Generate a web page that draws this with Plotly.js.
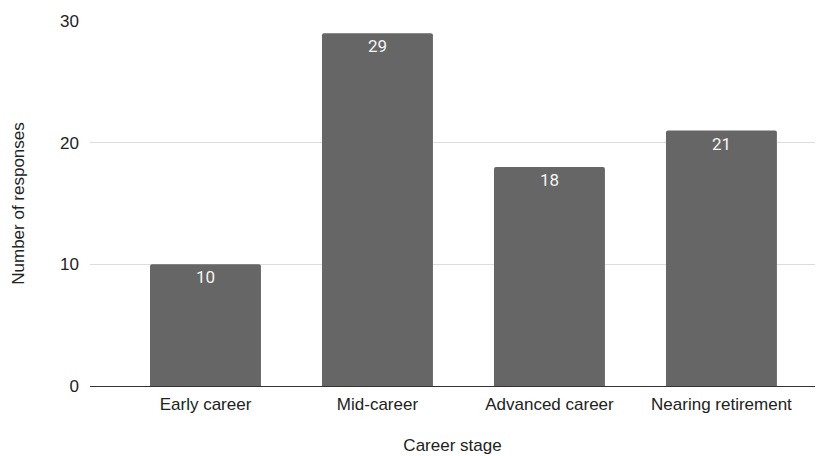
<!DOCTYPE html>
<html><head><meta charset="utf-8">
<script src="https://cdn.plot.ly/plotly-3.0.1.min.js"></script>
<style>html,body{margin:0;padding:0;background:#fff}#c{width:829px;height:456px}</style>
</head><body><div id="c"></div>
<script>
const categories = ["Early career", "Mid-career", "Advanced career", "Nearing retirement"];
const responses = [10, 29, 18, 21];
const yTicks = [0, 10, 20, 30];

const trace = {
  type: 'bar',
  x: categories,
  y: responses,
  text: responses.map(String),
  textposition: 'inside',
  insidetextanchor: 'end',
  textangle: 0,
  textfont: {family: 'Roboto, "Liberation Sans", Arial, sans-serif', size: 17, color: '#f4f4f4'},
  marker: {color: '#666666', cornerradius: 2},
  hoverinfo: 'none'
};

const layout = {
  width: 829, height: 456,
  margin: {l: 90, r: 14, t: 21, b: 70, pad: 0},
  paper_bgcolor: '#ffffff', plot_bgcolor: '#ffffff',
  showlegend: false,
  bargap: 0.355,
  font: {family: '"Liberation Sans", Arial, sans-serif', size: 17, color: '#222222'},
  xaxis: {
    type: 'category',
    range: [-0.6715, 3.544],
    showgrid: false, zeroline: false, showline: true, linecolor: '#333333', linewidth: 1,
    ticks: '', ticklabelstandoff: 3,
    tickfont: {size: 17, color: '#222222'},
    title: {text: 'Career stage', font: {size: 17, color: '#222222'}, standoff: 25}
  },
  yaxis: {
    range: [0, 30],
    tickvals: yTicks,
    showgrid: true, gridcolor: '#dddddd', gridwidth: 1,
    zeroline: false, showline: false,
    ticks: '', ticklabelstandoff: 10,
    tickfont: {size: 17, color: '#222222'},
    title: {text: 'Number of responses', font: {size: 17, color: '#222222'}, standoff: 31}
  }
};

Plotly.newPlot('c', [trace], layout, {displayModeBar: false, staticPlot: true});
</script>
</body></html>
